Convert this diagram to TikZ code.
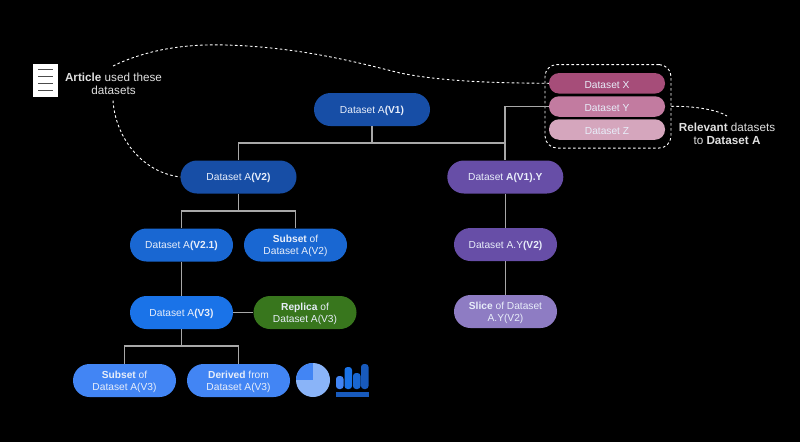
\documentclass[tikz,border=0pt]{standalone}
\usepackage{fontspec}
\setmainfont{Liberation Sans}
\definecolor{bluea}{HTML}{174EA6}
\definecolor{blueb}{HTML}{1967D2}
\definecolor{bluec}{HTML}{1A73E8}
\definecolor{blued}{HTML}{4285F4}
\definecolor{bluee}{HTML}{8AB4F8}
\definecolor{bluef}{HTML}{185ABC}
\definecolor{purplea}{HTML}{674EA7}
\definecolor{purpleb}{HTML}{8E7CC3}
\definecolor{greena}{HTML}{38761D}
\definecolor{pinka}{HTML}{A64D79}
\definecolor{pinkb}{HTML}{C27BA0}
\definecolor{pinkc}{HTML}{D5A6BD}
\definecolor{linegrey}{HTML}{A8A8A8}
\definecolor{nodetext}{HTML}{E8EEFA}
\tikzset{
  pill/.style={fill=#1,rounded corners=16.5pt,minimum height=33pt,inner sep=0pt,align=center,text depth=-1.4pt,
    text=nodetext,font=\fontsize{10.2}{11.8}\selectfont},
  wide/.style={minimum width=116pt},
  narrow/.style={minimum width=103pt},
  flat/.style={fill=#1,rounded corners=10pt,minimum height=20.5pt,minimum width=116pt,inner sep=0pt,
    text depth=0pt,text height=9.5pt,text=nodetext,font=\fontsize{10.2}{11.8}\selectfont},
  link/.style={draw=linegrey,line width=1.1pt},
  dashline/.style={draw=white,line width=0.9pt,dash pattern=on 2.6pt off 2.4pt},
  note/.style={text=white!88!black,align=center,inner sep=0pt,font=\fontsize{11.7}{13}\selectfont},
}
\begin{document}
\begin{tikzpicture}[x=1pt,y=-1pt]
\useasboundingbox (0,0) rectangle (800,442);
\fill[black] (0,0) rectangle (800,442);

% Junctions
\coordinate (jtop) at (372,143);
\coordinate (jl) at (238.5,143);
\coordinate (jr) at (505,143);
\coordinate (jyup) at (505,106.5);
\coordinate (ja) at (238.5,211);
\coordinate (jal) at (181.5,211);
\coordinate (jar) at (295.5,211);
\coordinate (jb) at (181.5,346);
\coordinate (jbl) at (124.5,346);
\coordinate (jbr) at (238.5,346);

% Nodes
\node[pill=bluea,wide] (v1) at (372,109.5) {Dataset A\textbf{(V1)}};
\node[pill=bluea,wide] (v2) at (238.5,177) {Dataset A\textbf{(V2)}};
\node[pill=purplea,wide] (v1y) at (505.3,177) {Dataset \textbf{A(V1).Y}};
\node[pill=blueb,narrow] (v21) at (181.5,245) {Dataset A\textbf{(V2.1)}};
\node[pill=blueb,narrow] (subb) at (295.5,245) {\textbf{Subset} of\\Dataset A(V2)};
\node[pill=bluec,narrow] (v3) at (181.5,312.5) {Dataset A\textbf{(V3)}};
\node[pill=greena,narrow] (rep) at (305,312.5) {\textbf{Replica} of\\Dataset A(V3)};
\node[pill=blued,narrow] (subc) at (124.5,380.5) {\textbf{Subset} of\\Dataset A(V3)};
\node[pill=blued,narrow] (der) at (238.5,380.5) {\textbf{Derived} from\\Dataset A(V3)};
\node[pill=purplea,narrow] (ay) at (505.5,244.5) {Dataset A.Y\textbf{(V2)}};
\node[pill=purpleb,narrow] (sl) at (505.5,311.5) {\textbf{Slice} of Dataset\\A.Y(V2)};
\node[flat=pinka] (dx) at (607,83.3) {Dataset X};
\node[flat=pinkb] (dy) at (607,106.5) {Dataset Y};
\node[flat=pinkc] (dz) at (607,129.5) {Dataset Z};
\node[draw=white,line width=0.9pt,dash pattern=on 2.6pt off 2.4pt,rounded corners=12pt,
      minimum width=126pt,minimum height=83.5pt,inner sep=0pt] (grp) at (608,106.3) {};

\node[note] (art) at (113.5,83.5) {\textbf{Article} used these\\datasets};
\node[note] (rel) at (727,133.5) {\textbf{Relevant} datasets\\to \textbf{Dataset A}};

% Article icon
\node[fill=white,minimum width=25pt,minimum height=33pt,inner sep=0pt] (doc) at (45.5,80.3) {};
\foreach \yy in {-10.8,-3.6,3,10.4}
  \draw[draw=black!70,line width=1.2pt] ([xshift=-7.5pt,yshift=-\yy pt]doc.center) -- ([xshift=7.5pt,yshift=-\yy pt]doc.center);

% Connectors
\draw[link] (v1.south) -- (jtop);
\draw[link] (v2.north) -- (jl) -- (jr) -- (jr |- v1y.north);
\draw[link] (jr) -- (jyup) -- (dy.west);
\draw[link] (v2.south) -- (ja);
\draw[link] (v21.north) -- (jal) -- (jar) -- (subb.north);
\draw[link] (v21.south) -- (v3.north);
\draw[link] (v3.east) -- (rep.west);
\draw[link] (v3.south) -- (jb);
\draw[link] (subc.north) -- (jbl) -- (jbr) -- (der.north);
\draw[link] (ay.north) -- (ay.north |- v1y.south);
\draw[link] (ay.south) -- (sl.north);

% Dashed curves
\coordinate (aup) at (113,66);
\coordinate (adown) at (113,100.5);
\coordinate (rtop) at (727,116);
\draw[dashline] (aup) .. controls (150,48) and (190,44) .. (225,45)
   .. controls (300,47) and (360,63) .. (400,73)
   .. controls (440,81) and (490,83) .. (dx.west);
\draw[dashline] (adown) .. controls (115,135) and (140,172) .. (v2.west);
\draw[dashline] (grp.east) .. controls (695,106) and (718,110) .. (rtop);

% Pie chart
\fill[bluee] (313,380) circle (17);
\begin{scope}
\clip (313,380) circle (17);
\fill[blued] (296,363) rectangle (313,380);
\end{scope}

% Bar chart
\fill[blued,rounded corners=3pt] (336,389) rectangle (343.5,376);
\fill[bluec,rounded corners=3pt] (344.5,389) rectangle (352,367);
\fill[blueb,rounded corners=3pt] (353,389) rectangle (360.5,373);
\fill[bluef,rounded corners=3pt] (361,389) rectangle (368.5,364);
\fill[bluef] (336,391.5) rectangle (368.5,396.5);
\end{tikzpicture}
\end{document}
